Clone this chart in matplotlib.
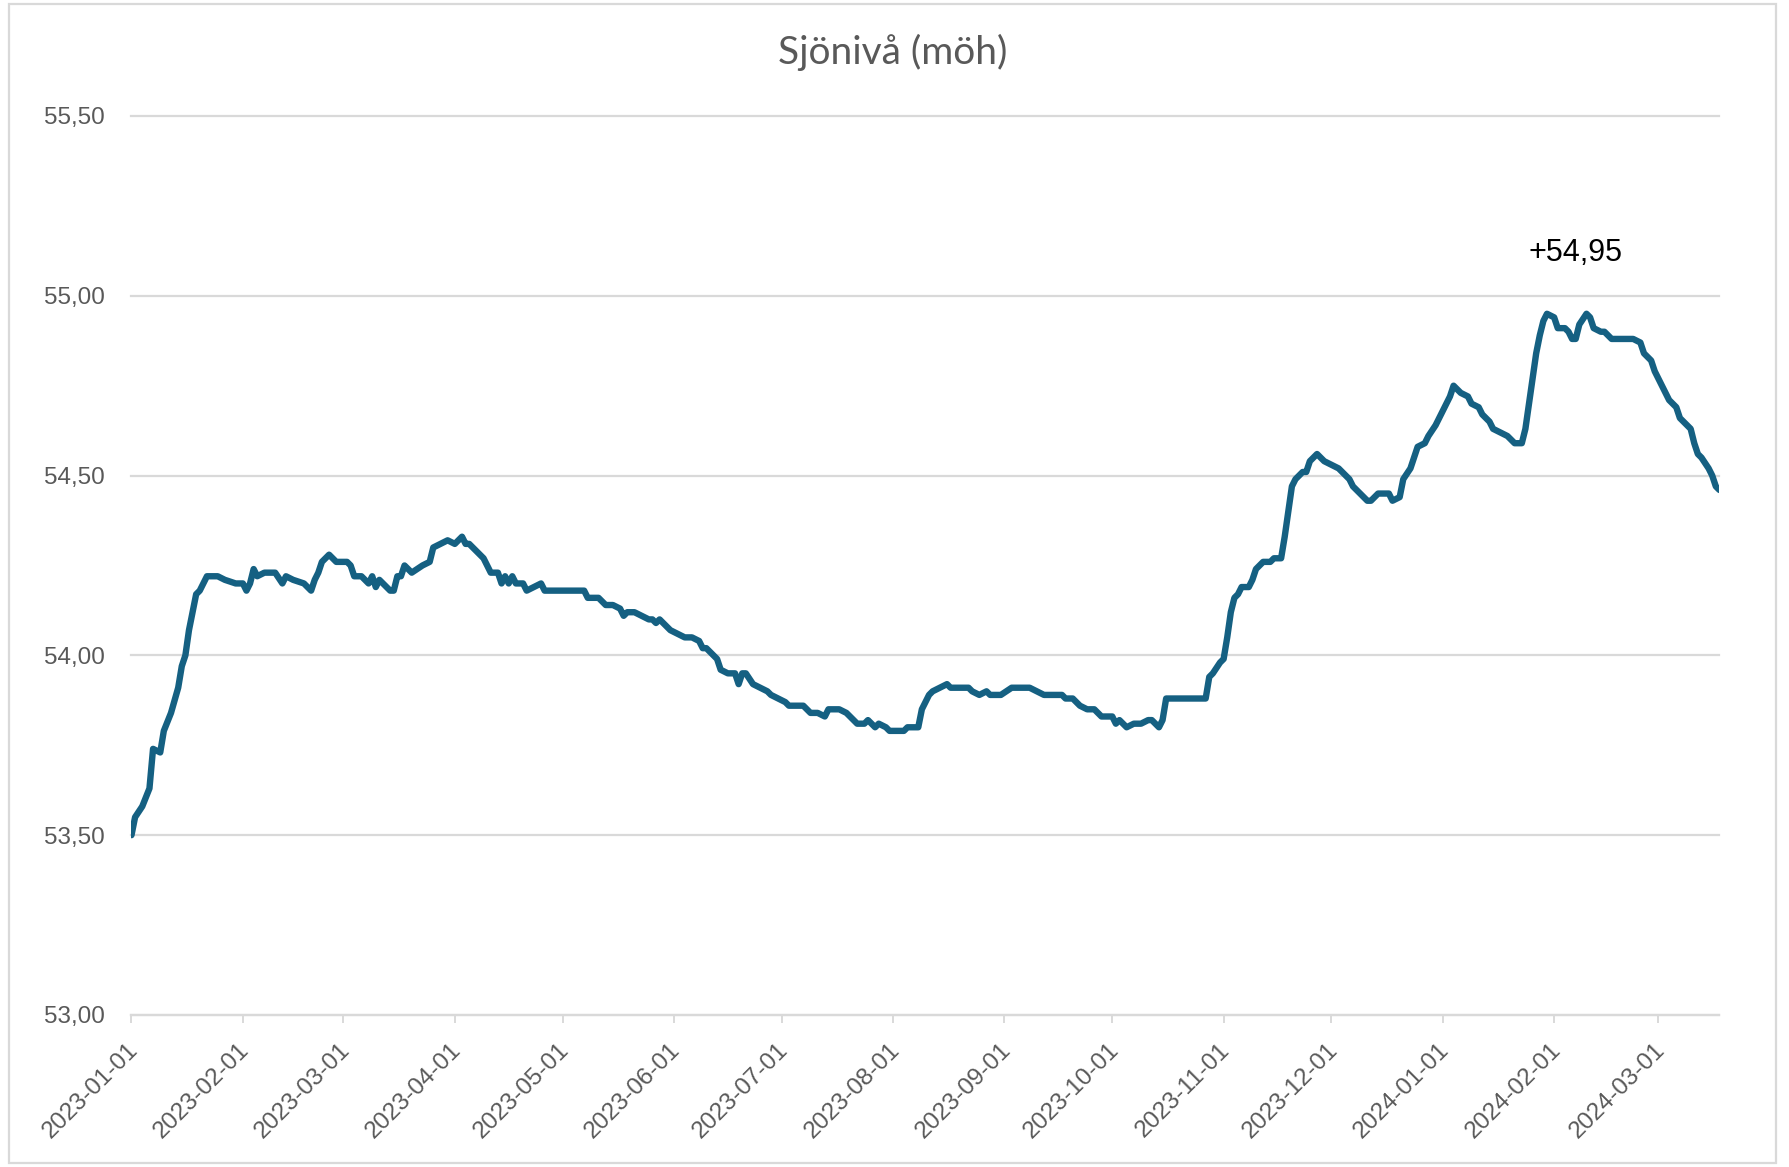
import matplotlib
matplotlib.use('Agg')
import matplotlib.pyplot as plt
import matplotlib.dates as mdates
import matplotlib.patches as patches
from matplotlib.ticker import FuncFormatter
from matplotlib.transforms import ScaledTranslation
import numpy as np
import pandas as pd

plt.rcParams['font.family'] = ['Liberation Sans', 'DejaVu Sans']

# sjönivå: dagar efter 2023-01-01 och nivå i m ö.h.
start = '2023-01-01'
end = '2024-03-18'
day_offsets = [
    0, 1, 3, 5, 6, 8, 9, 11, 13, 14, 15, 16, 18, 19, 21, 24, 26, 29, 31, 32,
    33, 34, 35, 37, 40, 42, 43, 45, 48, 50, 51, 52, 53, 55, 57, 60, 61, 62, 64, 66,
    67, 68, 69, 70, 72, 73, 74, 75, 76, 78, 81, 83, 84, 86, 88, 90, 92, 93, 94, 96,
    98, 99, 100, 102, 103, 104, 105, 106, 107, 109, 110, 112, 114, 115, 126, 127, 130, 132, 134, 136,
    137, 138, 140, 142, 144, 145, 146, 147, 150, 152, 154, 156, 158, 159, 160, 161, 163, 164, 166, 168,
    169, 170, 171, 173, 175, 177, 178, 180, 182, 183, 187, 189, 191, 193, 194, 197, 199, 202, 204, 205,
    207, 208, 210, 211, 215, 216, 219, 220, 222, 223, 225, 227, 228, 233, 234, 236, 238, 239, 242, 245,
    250, 252, 254, 259, 260, 262, 264, 266, 268, 270, 273, 274, 275, 277, 279, 281, 283, 284, 286, 287,
    288, 299, 300, 301, 303, 304, 305, 306, 307, 308, 309, 311, 312, 313, 315, 317, 318, 320, 321, 322,
    323, 324, 326, 327, 328, 330, 332, 334, 336, 339, 340, 341, 344, 345, 347, 350, 351, 353, 354, 356,
    358, 360, 361, 363, 364, 366, 367, 368, 370, 372, 373, 375, 376, 378, 379, 381, 383, 385, 387, 388,
    389, 390, 391, 392, 393, 394, 396, 397, 399, 400, 401, 402, 403, 405, 406, 407, 409, 410, 412, 418,
    420, 421, 423, 424, 425, 427, 428, 430, 431, 434, 435, 436, 437, 439, 440, 441, 442,
]
levels = [
    53.50, 53.55, 53.58, 53.63, 53.74, 53.73, 53.79, 53.84, 53.91, 53.97, 54.00, 54.07, 54.17, 54.18, 54.22, 54.22, 54.21, 54.20, 54.20, 54.18,
    54.20, 54.24, 54.22, 54.23, 54.23, 54.20, 54.22, 54.21, 54.20, 54.18, 54.21, 54.23, 54.26, 54.28, 54.26, 54.26, 54.25, 54.22, 54.22, 54.20,
    54.22, 54.19, 54.21, 54.20, 54.18, 54.18, 54.22, 54.22, 54.25, 54.23, 54.25, 54.26, 54.30, 54.31, 54.32, 54.31, 54.33, 54.31, 54.31, 54.29,
    54.27, 54.25, 54.23, 54.23, 54.20, 54.22, 54.20, 54.22, 54.20, 54.20, 54.18, 54.19, 54.20, 54.18, 54.18, 54.16, 54.16, 54.14, 54.14, 54.13,
    54.11, 54.12, 54.12, 54.11, 54.10, 54.10, 54.09, 54.10, 54.07, 54.06, 54.05, 54.05, 54.04, 54.02, 54.02, 54.01, 53.99, 53.96, 53.95, 53.95,
    53.92, 53.95, 53.95, 53.92, 53.91, 53.90, 53.89, 53.88, 53.87, 53.86, 53.86, 53.84, 53.84, 53.83, 53.85, 53.85, 53.84, 53.81, 53.81, 53.82,
    53.80, 53.81, 53.80, 53.79, 53.79, 53.80, 53.80, 53.85, 53.89, 53.90, 53.91, 53.92, 53.91, 53.91, 53.90, 53.89, 53.90, 53.89, 53.89, 53.91,
    53.91, 53.90, 53.89, 53.89, 53.88, 53.88, 53.86, 53.85, 53.85, 53.83, 53.83, 53.81, 53.82, 53.80, 53.81, 53.81, 53.82, 53.82, 53.80, 53.82,
    53.88, 53.88, 53.94, 53.95, 53.98, 53.99, 54.05, 54.12, 54.16, 54.17, 54.19, 54.19, 54.21, 54.24, 54.26, 54.26, 54.27, 54.27, 54.33, 54.40,
    54.47, 54.49, 54.51, 54.51, 54.54, 54.56, 54.54, 54.53, 54.52, 54.49, 54.47, 54.46, 54.43, 54.43, 54.45, 54.45, 54.43, 54.44, 54.49, 54.52,
    54.58, 54.59, 54.61, 54.64, 54.66, 54.70, 54.72, 54.75, 54.73, 54.72, 54.70, 54.69, 54.67, 54.65, 54.63, 54.62, 54.61, 54.59, 54.59, 54.63,
    54.70, 54.77, 54.84, 54.89, 54.93, 54.95, 54.94, 54.91, 54.91, 54.90, 54.88, 54.88, 54.92, 54.95, 54.94, 54.91, 54.90, 54.90, 54.88, 54.88,
    54.87, 54.84, 54.82, 54.79, 54.77, 54.73, 54.71, 54.69, 54.66, 54.63, 54.59, 54.56, 54.55, 54.52, 54.50, 54.47, 54.46,
]
title = 'Sjönivå (möh)'
y_ticks = [53.0, 53.5, 54.0, 54.5, 55.0, 55.5]

dates = pd.Timestamp(start) + pd.to_timedelta(day_offsets, unit='D')
peak = max(levels)
peak_label = '+' + f'{peak:.2f}'.replace('.', ',')

grey = '#595959'
light = '#d9d9d9'
blue = '#156082'

fig = plt.figure(figsize=(17.89, 11.67), dpi=100)
ax = fig.add_axes([0.0735, 0.1303, 0.8876, 0.7703])

ax.plot(dates, levels, color=blue, lw=4.6, solid_joinstyle='round', solid_capstyle='round', zorder=3)

ax.set_xlim(pd.Timestamp(start), pd.Timestamp(end))
ax.set_ylim(53.0, 55.5)
ax.set_yticks(y_ticks)
ax.yaxis.set_major_formatter(FuncFormatter(lambda v, p: f'{v:.2f}'.replace('.', ',')))
ax.grid(axis='y', color=light, lw=1.6, zorder=0)
for gl in ax.get_ygridlines():
    gl.set_clip_on(False)

ax.xaxis.set_major_locator(mdates.MonthLocator())
ax.xaxis.set_major_formatter(mdates.DateFormatter('%Y-%m-%d'))

for s in ['top', 'right', 'left']:
    ax.spines[s].set_visible(False)
ax.spines['bottom'].set_color(light)
ax.spines['bottom'].set_linewidth(1.6)

ax.tick_params(axis='y', length=0, pad=19, labelsize=17.5, labelcolor=grey)
ax.tick_params(axis='x', length=5.8, width=1.4, color=light, pad=17, labelsize=17.5, labelcolor=grey)
for lab in ax.get_xticklabels():
    lab.set_rotation(45)
    lab.set_ha('right')
    lab.set_va('center')
    lab.set_rotation_mode('anchor')
    lab.set_transform(lab.get_transform() + ScaledTranslation(3 / 100, 0, fig.dpi_scale_trans))

# etikett vid toppen
ax.text(pd.Timestamp(start) + pd.Timedelta(days=402), 55.12, peak_label,
        ha='center', va='center', fontsize=22, color='black')

fig.text(0.499, 0.9554, title, ha='center', va='center', fontsize=28,
         color=grey, family=['Lato', 'DejaVu Sans'])

fig.patches.append(patches.Rectangle((0.005, 0.003), 0.988, 0.994, transform=fig.transFigure,
                                     fill=False, edgecolor=light, lw=1.6))

fig.savefig('out.png', dpi=100)
